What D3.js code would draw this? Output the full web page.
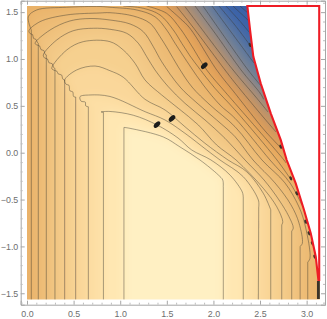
<!DOCTYPE html>
<html>
<head>
<meta charset="utf-8">
<script src="https://cdn.jsdelivr.net/npm/d3@7"></script>
<style>
   html, body { margin: 0; background: #fff; }
   svg { display: block; }
   text { font-family: "Liberation Sans", sans-serif; font-size: 8.9px; fill: #6e6e6e; }
</style>
</head>
<body>
<svg width="327" height="319"></svg>
<script>
// tick values
const xMajor = [0, 0.5, 1, 1.5, 2, 2.5, 3]
const yMajor = [-1.5, -1, -0.5, 0, 0.5, 1, 1.5]
const xMinor = [0.1, 0.2, 0.3, 0.4, 0.6, 0.7, 0.8, 0.9, 1.1, 1.2, 1.3, 1.4, 1.6, 1.7, 1.8, 1.9, 2.1, 2.2, 2.3, 2.4, 2.6, 2.7, 2.8, 2.9, 3.1]
const yMinor = [-1.4, -1.3, -1.2, -1.1, -0.9, -0.8, -0.7, -0.6, -0.4, -0.3, -0.2, -0.1, 0.1, 0.2, 0.3, 0.4, 0.6, 0.7, 0.8, 0.9, 1.1, 1.2, 1.3, 1.4, 1.6, -1.6]

// contour lines, inner level first
const c1 = [[1.04, -1.57], [1.04, 0.27], [1.105, 0.26], [1.462, 0.168], [1.642, 0.061], [1.856, -0.078], [2.053, -0.238], [2.10, -0.291], [2.106, -0.36], [2.106, -1.57]]
const c2 = [[0.82, -1.57], [0.82, 0.43], [0.795, 0.435], [0.89, 0.44], [1.14, 0.40], [1.395, 0.296], [1.62, 0.157], [1.767, 0.029], [1.974, -0.078], [2.18, -0.24], [2.31, -0.42], [2.32, -0.47], [2.32, -1.57]]
const c3 = [[0.658, -1.57], [0.658, 0.49], [0.63, 0.50], [0.625, 0.54], [0.58, 0.55], [0.569, 0.598], [0.676, 0.616], [0.89, 0.60], [1.266, 0.438], [1.481, 0.349], [1.695, 0.207], [1.928, 0.029], [2.071, -0.078], [2.32, -0.256], [2.482, -0.505], [2.486, -0.58], [2.482, -1.57]]
const c4 = [[0.522, -1.57], [0.522, 0.594], [0.50, 0.60], [0.49, 0.65], [0.46, 0.66], [0.45, 0.72], [0.42, 0.73], [0.404, 0.776], [0.533, 0.883], [0.73, 0.925], [0.89, 0.875], [1.033, 0.805], [1.266, 0.57], [1.481, 0.456], [1.695, 0.277], [1.91, 0.10], [2.157, -0.078], [2.357, -0.203], [2.535, -0.433], [2.615, -0.61], [2.615, -1.57]]
const c5 = [[0.404, -1.57], [0.404, 0.776], [0.385, 0.785], [0.37, 0.83], [0.335, 0.84], [0.32, 0.87], [0.29, 0.88], [0.265, 0.90], [0.426, 1.096], [0.604, 1.185], [0.89, 1.185], [1.033, 1.096], [1.159, 0.954], [1.266, 0.776], [1.445, 0.616], [1.623, 0.474], [1.838, 0.296], [2.035, 0.082], [2.243, -0.078], [2.535, -0.38], [2.679, -0.576], [2.744, -0.736], [2.733, -0.77], [2.733, -1.57]]
const c6 = [[0.30, -1.57], [0.30, 0.90], [0.285, 0.91], [0.27, 0.95], [0.235, 0.96], [0.22, 1.0], [0.19, 1.01], [0.175, 1.043], [0.319, 1.203], [0.497, 1.302], [0.711, 1.328], [0.89, 1.317], [1.07, 1.274], [1.194, 1.168], [1.284, 1.025], [1.373, 0.883], [1.516, 0.704], [1.695, 0.527], [1.91, 0.349], [2.124, 0.154], [2.339, -0.078], [2.543, -0.291], [2.704, -0.505], [2.811, -0.683], [2.857, -0.804], [2.84, -0.836], [2.84, -1.57]]
const c7 = [[0.207, -1.57], [0.207, 1.043], [0.195, 1.05], [0.18, 1.09], [0.15, 1.10], [0.135, 1.14], [0.105, 1.15], [0.086, 1.168], [0.247, 1.309], [0.461, 1.406], [0.676, 1.432], [0.89, 1.416], [1.105, 1.374], [1.248, 1.291], [1.355, 1.131], [1.445, 0.971], [1.642, 0.701], [1.824, 0.53], [2.035, 0.349], [2.232, 0.171], [2.425, -0.078], [2.661, -0.323], [2.833, -0.558], [2.918, -0.75], [2.954, -0.967], [2.93, -1.0], [2.93, -1.57]]
const c8 = [[0.121, -1.57], [0.121, 1.168], [0.11, 1.18], [0.095, 1.21], [0.07, 1.22], [0.06, 1.26], [0.035, 1.27], [0.021, 1.302], [0.139, 1.398], [0.426, 1.47], [0.783, 1.491], [0.89, 1.494], [1.14, 1.459], [1.32, 1.381], [1.427, 1.238], [1.516, 1.096], [1.623, 0.915], [1.77, 0.701], [1.964, 0.509], [2.232, 0.277], [2.521, -0.078], [2.768, -0.323], [2.918, -0.579], [2.983, -0.772], [3.036, -1.127], [3.012, -1.167], [3.012, -1.57]]
const c9 = [[0.046, -1.57], [0.046, 1.31], [0.014, 1.451], [0.104, 1.523], [0.426, 1.552], [0.783, 1.56], [0.89, 1.552], [1.177, 1.523], [1.373, 1.451], [1.499, 1.309], [1.588, 1.168], [1.749, 0.925], [1.892, 0.722], [2.071, 0.509], [2.232, 0.367], [2.607, -0.078], [2.822, -0.323], [2.95, -0.56]]
const c10 = [[1.033, 1.565], [1.248, 1.541], [1.427, 1.47], [1.57, 1.309], [1.66, 1.168], [1.749, 1.032], [1.845, 0.904], [2.017, 0.687], [2.232, 0.456], [2.682, -0.078], [2.82, -0.27]]
const c11 = [[1.284, 1.565], [1.499, 1.487], [1.642, 1.327], [1.749, 1.168], [1.928, 0.883], [2.124, 0.651], [2.232, 0.527], [2.757, -0.078], [2.78, -0.11]]
const c12 = [[1.499, 1.56], [1.642, 1.434], [1.749, 1.327], [2.035, 0.883], [2.232, 0.634], [2.457, 0.349], [2.564, 0.221], [2.725, 0.05]]
const c13 = [[1.606, 1.558], [1.749, 1.381], [2.124, 0.883], [2.232, 0.744], [2.543, 0.37], [2.672, 0.221]]
const c14 = [[1.695, 1.558], [1.749, 1.487], [2.21, 0.883], [2.446, 0.605], [2.586, 0.434]]
const c15 = [[1.803, 1.565], [2.05, 1.23], [2.296, 0.883], [2.50, 0.637], [2.54, 0.57]]
const c16 = [[1.888, 1.565], [2.13, 1.22], [2.371, 0.883], [2.511, 0.712]]
const c17 = [[1.985, 1.565], [2.21, 1.26], [2.435, 0.957]]
const c18 = [[2.06, 1.565], [2.24, 1.35], [2.414, 1.117]]
const c19 = [[2.135, 1.565], [2.27, 1.42], [2.40, 1.267]]
const c20 = [[2.21, 1.565], [2.382, 1.405]]
const c21 = [[2.285, 1.565], [2.371, 1.49]]
const contourLines = [c1, c2, c3, c4, c5, c6, c7, c8, c9, c10, c11, c12, c13, c14, c15, c16, c17, c18, c19, c20, c21]

// edge of the region
const regionEdge = [[2.364, 1.565], [2.393, 1.31], [2.428, 1.025], [2.507, 0.741], [2.615, 0.42], [2.722, 0.136], [2.786, -0.078], [2.883, -0.327], [2.972, -0.612], [3.044, -0.86], [3.098, -1.11], [3.126, -1.359]]
const regionRight = 3.135

// dark specks
const bigSpecks = [[1.395, 0.30], [1.556, 0.365], [1.902, 0.928]]
const edgeSpecks = [[2.83, -0.273], [2.894, -0.433], [2.99, -0.736], [3.026, -0.86], [3.061, -0.967], [3.087, -1.11], [2.393, 1.15], [2.722, 0.064]]
const edgeStripe = [[3.128, -1.37], [3.128, -1.56]]

// colour per band, 0 is inside c1
const bandLevels = [0, 1, 2, 3, 4, 5, 6, 7, 8, 9, 10, 11, 12, 13, 14, 15, 16, 17, 18, 19, 20, 21]
const bandColours = ["#fff0c3", "#ffe7b2", "#fddfa5", "#fad79a", "#f6d08f", "#f3c987", "#f0c27e", "#edbc76", "#ebb770", "#e9b168", "#e8ab5e", "#e4a258", "#d69a5c", "#bd9368", "#a08c7a", "#84868c", "#6a7e98", "#5272a2", "#4268a8", "#3a62a8", "#3a62a8", "#3a62a8"]

const x = d3.scaleLinear().domain([-0.0676, 3.197]).range([20.7, 325])
const y = d3.scaleLinear().domain([-1.622, 1.622]).range([304.7, 0.7])
const colour = d3.scaleOrdinal().domain(bandLevels).range(bandColours)

const svg = d3.select("svg")
const defs = svg.append("defs")

defs.append("clipPath").attr("id", "plotClip")
   .append("rect")
   .attr("x", x(0)).attr("y", y(1.5655))
   .attr("width", x(Math.PI) - x(0)).attr("height", y(-1.5655) - y(1.5655))

defs.append("filter").attr("id", "soft")
   .attr("filterUnits", "userSpaceOnUse")
   .attr("x", -40).attr("y", -40).attr("width", 420).attr("height", 400)
   .append("feGaussianBlur").attr("stdDeviation", 4)

defs.append("filter").attr("id", "lineSoft")
   .attr("filterUnits", "userSpaceOnUse")
   .attr("x", 0).attr("y", 0).attr("width", 327).attr("height", 319)
   .append("feGaussianBlur").attr("stdDeviation", 0.3)

const line = d3.line().x(d => x(d[0])).y(d => y(d[1])).curve(d3.curveCatmullRom.alpha(0.5))
const pt = p => `${x(p[0])},${y(p[1])}`

// the long runs down to the bottom edge stay straight, the rest is curved
function contourPath(pts) {
   const n = pts.length
   const fromBottom = pts[0][1] < -1.5, toBottom = pts[n - 1][1] < -1.5
   const inner = pts.slice(fromBottom ? 1 : 0, toBottom ? n - 1 : n)
   let d = line(inner)
   if (fromBottom) d = "M" + pt(pts[0]) + "L" + d.slice(1)
   if (toBottom) d += "L" + pt(pts[n - 1])
   return d
}

function bandPath(pts) {
   const first = pts[0], last = pts[pts.length - 1]
   let before, after
   if (first[1] < -1.5) before = [[first[0], -1.9]]
   else before = [[-0.4, -1.9], [-0.4, 1.9], [first[0], 1.9]]
   if (last[1] < -1.5) after = [[last[0], -1.9]]
   else after = [[3.5, last[1]], [3.5, -1.9]]
   return "M" + before.map(pt).join("L") + "L" + contourPath(pts).slice(1) + "L" + after.map(pt).join("L") + "Z"
}

const plot = svg.append("g").attr("clip-path", "url(#plotClip)")

// shading: outer bands first, blurred so the steps melt together
const shade = plot.append("g").attr("filter", "url(#soft)")
shade.append("rect")
   .attr("x", -40).attr("y", -40).attr("width", 420).attr("height", 400)
   .attr("fill", colour(21))
shade.selectAll("path")
   .data(contourLines.slice().reverse())
   .enter()
   .append("path")
   .attr("d", d => bandPath(d))
   .attr("fill", d => colour(contourLines.indexOf(d)))

plot.append("g")
   .attr("filter", "url(#lineSoft)")
   .selectAll("path")
   .data(contourLines)
   .enter()
   .append("path")
   .attr("d", d => contourPath(d))
   .attr("fill", "none")
   .attr("stroke", "#3a3630")
   .attr("stroke-opacity", 0.44)
   .attr("stroke-width", 1)

plot.selectAll("ellipse.big")
   .data(bigSpecks)
   .enter()
   .append("ellipse")
   .attr("class", "big")
   .attr("transform", d => `translate(${x(d[0])},${y(d[1])}) rotate(-45)`)
   .attr("rx", 4).attr("ry", 2.3)
   .attr("fill", "#1d1d1b")

plot.selectAll("ellipse.edge")
   .data(edgeSpecks)
   .enter()
   .append("ellipse")
   .attr("class", "edge")
   .attr("transform", d => `translate(${x(d[0])},${y(d[1])}) rotate(65)`)
   .attr("rx", 2.2).attr("ry", 1.3)
   .attr("fill", "#3a3328")

plot.append("path")
   .attr("d", d3.line().x(d => x(d[0])).y(d => y(d[1]))(edgeStripe))
   .attr("stroke", "#3a3328")
   .attr("stroke-width", 3.2)

// white hole with the red outline
const hole = regionEdge.concat([[regionRight, regionEdge[regionEdge.length - 1][1]], [regionRight, regionEdge[0][1]]])
svg.append("path")
   .attr("d", d3.line().x(d => x(d[0])).y(d => y(d[1])).curve(d3.curveLinearClosed)(hole))
   .attr("fill", "#fff")
   .attr("stroke", "#ee1c25")
   .attr("stroke-width", 2.1)
   .attr("stroke-linejoin", "miter")

// frame with ticks pointing inward
const h = 304.7, w = 325, l = 20.7, t = 0.7
function frame(axis, major, minor, tx, ty, padding) {
   const big = svg.append("g").attr("transform", `translate(${tx},${ty})`)
      .call(axis.tickValues(major).tickSize(-4).tickPadding(padding || 0).tickFormat(padding ? d3.format(".1f") : ""))
   big.select(".domain").attr("stroke", "#a6a6a6").attr("stroke-width", 1)
   big.selectAll(".tick line").attr("stroke", "#a6a6a6")
   big.selectAll("text").attr("fill", "#6e6e6e").style("font-size", "8.9px")
   big.attr("font-family", null).attr("font-size", null)
   const small = svg.append("g").attr("transform", `translate(${tx},${ty})`)
      .call(axis.tickValues(minor).tickSize(-2).tickFormat(""))
   small.select(".domain").remove()
   small.selectAll(".tick line").attr("stroke", "#bdbdbd")
}
frame(d3.axisBottom(x), xMajor, xMinor, 0, h, 5.5)
frame(d3.axisTop(x), xMajor, xMinor, 0, t, 0)
frame(d3.axisLeft(y), yMajor, yMinor, l, 0, 2.4)
frame(d3.axisRight(y), yMajor, yMinor, w, 0, 0)
</script>
</body>
</html>
